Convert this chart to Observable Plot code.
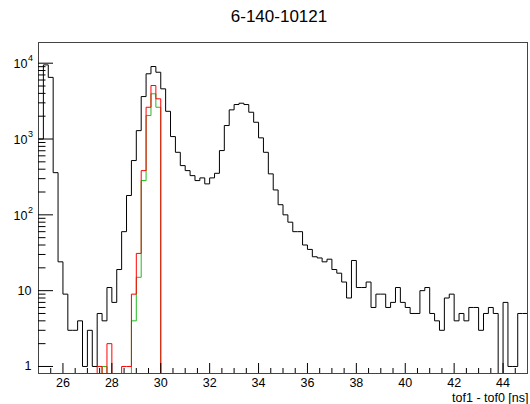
<!DOCTYPE html>
<html>
<head>
<meta charset="utf-8">
<script src="https://cdn.jsdelivr.net/npm/d3@7"></script>
<script src="https://cdn.jsdelivr.net/npm/@observablehq/plot@0.6"></script>
<style>
  html, body { margin: 0; padding: 0; background: #fff; }
  #chart { width: 530px; height: 404px; }
</style>
</head>
<body>
<div id="chart"></div>
<script>
// ---- data ----
const title = "6-140-10121";
const xLabel = "tof1 - tof0 [ns]";
const binStart = 25;      // ns, low edge of first bin
const binWidth = 0.2;     // ns
// black: all entries, 100 bins of 0.2 ns from 25 to 45 ns
const blackCounts = [
  1000, 9500, 6500, 360, 24, 9, 3, 3, 4, 1,
  3, 1, 5, 4, 11, 7, 19, 60, 180, 520,
  1290, 3630, 7250, 9040, 7600, 4590, 2320, 1077, 668, 446,
  383, 329, 283, 307, 256, 307, 353, 704, 1506, 2425,
  2850, 2966, 2850, 2255, 1664, 1036, 668, 347, 213, 136,
  100, 80, 60, 60, 40, 35, 28, 27, 24, 26,
  19, 17, 13, 8, 25, 11, 11, 13, 6, 9,
  9, 6, 7, 11, 7, 6, 5, 5, 10, 11,
  5, 4, 3, 8, 9, 4, 5, 4, 6, 6,
  3, 5, 6, 5, 0, 7, 1, 1, 5, 5
];
// red histogram
const redCounts = [
  0, 0, 0, 0, 0, 0, 0, 0, 0, 0,
  0, 0, 1, 0, 2, 0, 0, 1, 1, 9,
  31, 383, 2625, 5080, 3390, 0, 0, 0, 0, 0,
  0, 0, 0, 0, 0, 0, 0, 0, 0, 0,
  0, 0, 0, 0, 0, 0, 0, 0, 0, 0,
  0, 0, 0, 0, 0, 0, 0, 0, 0, 0,
  0, 0, 0, 0, 0, 0, 0, 0, 0, 0,
  0, 0, 0, 0, 0, 0, 0, 0, 0, 0,
  0, 0, 0, 0, 0, 0, 0, 0, 0, 0,
  0, 0, 0, 0, 0, 0, 0, 0, 0, 0
];
// green histogram
const greenCounts = [
  0, 0, 0, 0, 0, 0, 0, 0, 0, 0,
  0, 0, 0, 1, 0, 0, 0, 0, 0, 4,
  15, 283, 2040, 3950, 2625, 0, 0, 0, 0, 0,
  0, 0, 0, 0, 0, 0, 0, 0, 0, 0,
  0, 0, 0, 0, 0, 0, 0, 0, 0, 0,
  0, 0, 0, 0, 0, 0, 0, 0, 0, 0,
  0, 0, 0, 0, 0, 0, 0, 0, 0, 0,
  0, 0, 0, 0, 0, 0, 0, 0, 0, 0,
  0, 0, 0, 0, 0, 0, 0, 0, 0, 0,
  0, 0, 0, 0, 0, 0, 0, 0, 0, 0
];
const xTicks = [26, 28, 30, 32, 34, 36, 38, 40, 42, 44];
const xTickLabels = ["26", "28", "30", "32", "34", "36", "38", "40", "42", "44"];
const yTicks = [1, 10, 100, 1000, 10000];
const yTickBase = ["1", "10", "10", "10", "10"];
const yTickExp = ["", "", "2", "3", "4"];
const xDomain = [25, 45];
const yDomain = [0.808, 18750];

// ---- layout ----
const W = 530, H = 404;
const mL = 38, mR = 3, mT = 42, mB = 31;
const frameW = W - mL - mR, frameH = H - mT - mB;
const font = "'Liberation Sans', Arial, Helvetica, sans-serif";

const yMin = yDomain[0];
function outline(counts) {
  const n = counts.length;
  const pts = [{x: binStart, y: yMin}];
  counts.forEach((c, i) => pts.push({x: binStart + i * binWidth, y: Math.max(c, yMin)}));
  pts.push({x: binStart + n * binWidth, y: Math.max(counts[n - 1], yMin)});
  pts.push({x: binStart + n * binWidth, y: yMin});
  return pts;
}

const xMinor = d3.range(xDomain[0], xDomain[1] + 1e-9, 0.5).filter(v => !xTicks.includes(v) && v > xDomain[0] && v < xDomain[1]);
const yMinor = [];
for (let e = 0; e <= 4; e++) for (let m = 2; m <= 9; m++) {
  const v = m * Math.pow(10, e);
  if (v > yDomain[0] && v < yDomain[1]) yMinor.push(v);
}

const yLabelRows = yTicks.map((v, i) => ({v, base: yTickBase[i], exp: yTickExp[i]}));

const chart = Plot.plot({
  width: W, height: H,
  marginLeft: mL, marginRight: mR, marginTop: mT, marginBottom: mB,
  x: {domain: xDomain, axis: null},
  y: {type: "log", domain: yDomain, axis: null},
  style: {fontFamily: font, background: "#fff", overflow: "visible"},
  marks: [
    // histograms
    Plot.line(outline(blackCounts), {x: "x", y: "y", curve: "step-after", stroke: "#000", strokeWidth: 1}),
    Plot.line(outline(greenCounts), {x: "x", y: "y", curve: "step-after", stroke: "#22bb22", strokeWidth: 1}),
    Plot.line(outline(redCounts), {x: "x", y: "y", curve: "step-after", stroke: "#ff0000", strokeWidth: 1}),
    // frame
    Plot.frame({stroke: "#444", strokeWidth: 1}),
    // x ticks (inward)
    Plot.tickX(xTicks, {x: d => d, insetTop: frameH - 10, stroke: "#000"}),
    Plot.tickX(xMinor, {x: d => d, insetTop: frameH - 5, stroke: "#000"}),
    // y ticks (inward)
    Plot.tickY(yTicks, {y: d => d, insetRight: frameW - 15, stroke: "#000"}),
    Plot.tickY(yMinor, {y: d => d, insetRight: frameW - 7.5, stroke: "#000"}),
    // x tick labels
    Plot.text(xTicks, {x: d => d, text: (d, i) => xTickLabels[i], frameAnchor: "bottom", lineAnchor: "bottom", dy: 13, fontSize: 12.5, fill: "#000"}),
    // y tick labels
    Plot.text(yLabelRows.filter(d => !d.exp), {y: "v", text: "base", frameAnchor: "left", textAnchor: "end", lineAnchor: "middle", dx: -7, fontSize: 12.5, fill: "#000"}),
    Plot.text(yLabelRows.filter(d => d.exp), {y: "v", text: "base", frameAnchor: "left", textAnchor: "end", lineAnchor: "middle", dx: -11, dy: 1, fontSize: 12.5, fill: "#000"}),
    Plot.text(yLabelRows.filter(d => d.exp), {y: "v", text: "exp", frameAnchor: "left", textAnchor: "start", lineAnchor: "middle", dx: -10.5, dy: -5, fontSize: 9, fill: "#000"}),
    // axis title
    Plot.text([xLabel], {frameAnchor: "bottom-right", textAnchor: "end", lineAnchor: "bottom", dy: 28, dx: 1, fontSize: 12.5, fill: "#000"}),
    // title
    Plot.text([title], {frameAnchor: "top", lineAnchor: "bottom", dy: -21, dx: -4, fontSize: 17, fill: "#000"})
  ]
});
document.getElementById("chart").appendChild(chart);
</script>
</body>
</html>
